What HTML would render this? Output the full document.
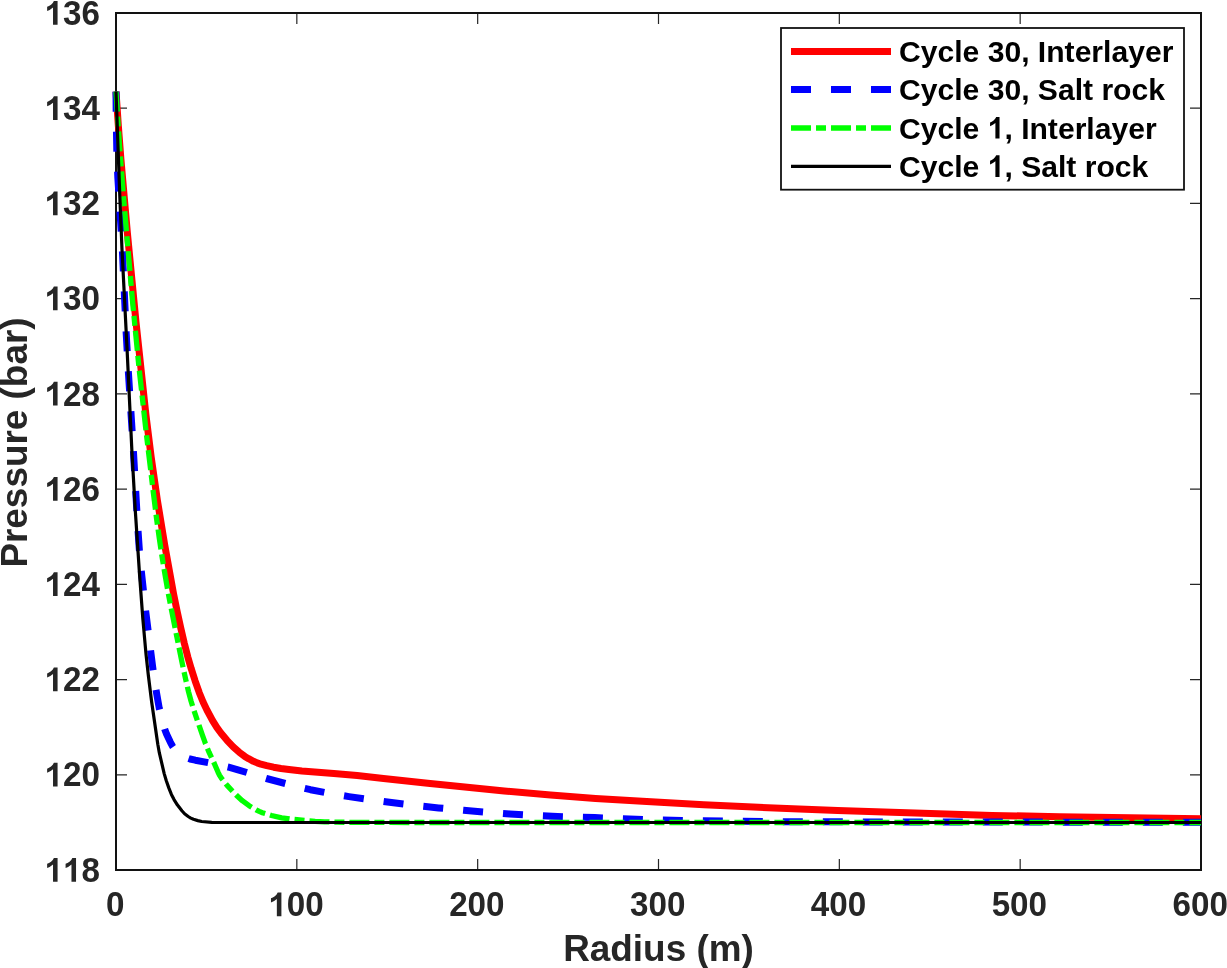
<!DOCTYPE html>
<html><head><meta charset="utf-8"><style>
html,body{margin:0;padding:0;background:#fff;overflow:hidden;}
svg{display:block;will-change:transform;}
text{font-family:"Liberation Sans",sans-serif;font-weight:bold;font-kerning:none;}
</style></head><body>
<svg width="1227" height="968" viewBox="0 0 1227 968">
<rect width="1227" height="968" fill="#fff"/>
<path d="M117 774.78H127M1200 774.78H1190M117 679.56H127M1200 679.56H1190M117 584.33H127M1200 584.33H1190M117 489.11H127M1200 489.11H1190M117 393.89H127M1200 393.89H1190M117 298.67H127M1200 298.67H1190M117 203.44H127M1200 203.44H1190M117 108.22H127M1200 108.22H1190M296.83 869V859M296.83 14V24M477.67 869V859M477.67 14V24M658.50 869V859M658.50 14V24M839.33 869V859M839.33 14V24M1020.17 869V859M1020.17 14V24" stroke="#262626" stroke-width="1.2" fill="none"/>
<rect x="116" y="13" width="1085" height="857" fill="none" stroke="#121212" stroke-width="2"/>
<g fill="none" stroke-linejoin="round">
<path d="M116.0 91.6L118.4 126.5 120.9 158.9 127.4 233.1 136.0 322.2 145.9 414.7 151.2 457.3 157.4 500.4 164.6 544.3 173.7 594.5 177.2 611.7 180.7 627.8 184.2 642.9 187.8 656.9 191.3 668.9 195.1 680.8 199.1 692.2 203.2 702.3 206.9 710.0 212.6 720.6 216.8 727.4 220.9 733.0 227.0 740.3 233.2 746.9 239.2 752.2 244.8 756.4 248.6 758.7 253.5 761.3 257.2 762.9 260.9 764.2 266.7 765.7 273.6 767.2 281.0 768.5 288.9 769.5 301.9 770.9 333.8 773.4 357.2 775.6 383.5 778.4 427.7 783.3 504.3 791.0 550.6 795.1 595.5 798.4 642.4 801.3 703.8 804.8 799.2 809.1 837.7 810.6 961.6 814.6 992.1 815.4 1059.5 816.7 1201.0 818.8" stroke="#f00" stroke-width="7"/>
<path d="M116.0 91.6L116.2 116.6 116.8 150.6 117.8 177.0 122.2 246.9 126.2 333.3 128.2 369.2 133.5 452.5 137.7 525.9 139.3 549.3 141.1 569.2 145.3 608.0 152.6 666.5 155.9 689.3 159.2 708.0 161.0 715.9 162.8 723.1 164.9 729.8 166.5 734.0 170.3 742.1 172.7 746.5 176.5 752.0 177.8 753.5 179.3 754.7 181.3 755.9 183.6 756.9 190.0 759.0 195.3 760.2 211.5 763.3 228.6 767.2 236.3 769.3 266.4 778.5 295.9 786.3 310.5 789.7 331.1 793.6 348.9 796.6 367.2 799.3 389.5 802.3 414.3 805.3 438.6 807.9 463.5 810.3 487.4 812.3 509.8 814.0 534.8 815.5 552.3 816.3 594.7 817.6 654.2 819.8 681.7 820.4 741.1 821.3 789.6 821.7 867.1 821.9 1201.0 822.3" stroke="#00f" stroke-width="7" stroke-dasharray="20 20"/>
<path d="M116.0 91.6L119.6 147.0 123.7 199.3 132.4 299.9 138.9 366.6 146.0 430.7 152.9 488.8 156.5 518.1 159.4 538.9 162.2 557.7 165.3 576.4 168.8 596.1 174.2 623.6 182.2 663.3 185.6 679.0 188.5 691.6 191.1 701.3 193.3 708.5 202.2 734.5 205.4 743.4 209.0 752.2 214.3 763.5 218.1 772.3 219.6 775.4 221.8 778.7 227.1 785.4 236.4 795.3 242.3 800.7 249.1 805.7 256.1 809.9 259.2 811.4 262.4 812.7 271.5 815.5 281.7 817.8 291.1 819.2 315.1 821.3 324.5 821.8 337.5 822.2 364.5 822.4 410.5 822.5 1201.0 822.5" stroke="#0f0" stroke-width="5.3" stroke-dasharray="20 5 10 5"/>
<path d="M116.0 91.6L119.8 196.0 122.0 249.5 127.1 349.8 131.9 451.2 135.2 509.1 139.5 573.9 142.8 618.3 146.0 654.1 148.3 675.0 151.7 702.3 157.8 744.3 159.3 752.7 164.2 773.6 166.3 780.8 168.8 787.9 171.4 794.4 173.9 799.3 177.3 804.8 181.9 810.8 184.6 813.8 188.2 816.5 190.8 818.1 193.5 819.3 197.8 820.6 201.7 821.5 211.7 822.3 224.7 822.5 1201.0 822.5" stroke="#000" stroke-width="3.2"/>
</g>
<g transform="translate(44.51,881.70) scale(1.0,1.045)" fill="#262626" font-size="33.2"><path transform="translate(0.00,0) scale(0.01621,-0.01551)" d="M806 0H525V1059Q371 915 162 846V1101Q272 1137 401 1237Q530 1337 578 1466H806Z"/><path transform="translate(18.46,0) scale(0.01621,-0.01551)" d="M806 0H525V1059Q371 915 162 846V1101Q272 1137 401 1237Q530 1337 578 1466H806Z"/><text x="36.93" y="0" style="white-space:pre">8</text></g><g transform="translate(44.51,786.48) scale(1.0,1.045)" fill="#262626" font-size="33.2"><path transform="translate(0.00,0) scale(0.01621,-0.01551)" d="M806 0H525V1059Q371 915 162 846V1101Q272 1137 401 1237Q530 1337 578 1466H806Z"/><text x="18.46" y="0" style="white-space:pre">20</text></g><g transform="translate(44.51,691.26) scale(1.0,1.045)" fill="#262626" font-size="33.2"><path transform="translate(0.00,0) scale(0.01621,-0.01551)" d="M806 0H525V1059Q371 915 162 846V1101Q272 1137 401 1237Q530 1337 578 1466H806Z"/><text x="18.46" y="0" style="white-space:pre">22</text></g><g transform="translate(44.51,596.03) scale(1.0,1.045)" fill="#262626" font-size="33.2"><path transform="translate(0.00,0) scale(0.01621,-0.01551)" d="M806 0H525V1059Q371 915 162 846V1101Q272 1137 401 1237Q530 1337 578 1466H806Z"/><text x="18.46" y="0" style="white-space:pre">24</text></g><g transform="translate(44.51,500.81) scale(1.0,1.045)" fill="#262626" font-size="33.2"><path transform="translate(0.00,0) scale(0.01621,-0.01551)" d="M806 0H525V1059Q371 915 162 846V1101Q272 1137 401 1237Q530 1337 578 1466H806Z"/><text x="18.46" y="0" style="white-space:pre">26</text></g><g transform="translate(44.51,405.59) scale(1.0,1.045)" fill="#262626" font-size="33.2"><path transform="translate(0.00,0) scale(0.01621,-0.01551)" d="M806 0H525V1059Q371 915 162 846V1101Q272 1137 401 1237Q530 1337 578 1466H806Z"/><text x="18.46" y="0" style="white-space:pre">28</text></g><g transform="translate(44.51,310.37) scale(1.0,1.045)" fill="#262626" font-size="33.2"><path transform="translate(0.00,0) scale(0.01621,-0.01551)" d="M806 0H525V1059Q371 915 162 846V1101Q272 1137 401 1237Q530 1337 578 1466H806Z"/><text x="18.46" y="0" style="white-space:pre">30</text></g><g transform="translate(44.51,215.14) scale(1.0,1.045)" fill="#262626" font-size="33.2"><path transform="translate(0.00,0) scale(0.01621,-0.01551)" d="M806 0H525V1059Q371 915 162 846V1101Q272 1137 401 1237Q530 1337 578 1466H806Z"/><text x="18.46" y="0" style="white-space:pre">32</text></g><g transform="translate(44.51,119.92) scale(1.0,1.045)" fill="#262626" font-size="33.2"><path transform="translate(0.00,0) scale(0.01621,-0.01551)" d="M806 0H525V1059Q371 915 162 846V1101Q272 1137 401 1237Q530 1337 578 1466H806Z"/><text x="18.46" y="0" style="white-space:pre">34</text></g><g transform="translate(44.51,24.70) scale(1.0,1.045)" fill="#262626" font-size="33.2"><path transform="translate(0.00,0) scale(0.01621,-0.01551)" d="M806 0H525V1059Q371 915 162 846V1101Q272 1137 401 1237Q530 1337 578 1466H806Z"/><text x="18.46" y="0" style="white-space:pre">36</text></g>
<g transform="translate(105.97,916.20) scale(1.0,1.045)" fill="#262626" font-size="33.2"><text x="0.00" y="0" style="white-space:pre">0</text></g><g transform="translate(268.34,916.20) scale(1.0,1.045)" fill="#262626" font-size="33.2"><path transform="translate(0.00,0) scale(0.01621,-0.01551)" d="M806 0H525V1059Q371 915 162 846V1101Q272 1137 401 1237Q530 1337 578 1466H806Z"/><text x="18.46" y="0" style="white-space:pre">00</text></g><g transform="translate(449.17,916.20) scale(1.0,1.045)" fill="#262626" font-size="33.2"><text x="0.00" y="0" style="white-space:pre">200</text></g><g transform="translate(630.00,916.20) scale(1.0,1.045)" fill="#262626" font-size="33.2"><text x="0.00" y="0" style="white-space:pre">300</text></g><g transform="translate(810.84,916.20) scale(1.0,1.045)" fill="#262626" font-size="33.2"><text x="0.00" y="0" style="white-space:pre">400</text></g><g transform="translate(991.67,916.20) scale(1.0,1.045)" fill="#262626" font-size="33.2"><text x="0.00" y="0" style="white-space:pre">500</text></g><g transform="translate(1172.50,916.20) scale(1.0,1.045)" fill="#262626" font-size="33.2"><text x="0.00" y="0" style="white-space:pre">600</text></g>
<g transform="translate(563.17,961.00) scale(1.0,1.0)" fill="#262626" font-size="36.9"><text x="0.00" y="0" style="white-space:pre">Radius (m)</text></g>
<g transform="translate(27.2,442.5) rotate(-90)"><g transform="translate(-125.11,0.00) scale(1.0,1.0)" fill="#262626" font-size="36.9"><text x="0.00" y="0" style="white-space:pre">Pressure (bar)</text></g></g>
<rect x="781" y="28" width="403" height="161.7" fill="#fff" stroke="#121212" stroke-width="1.8"/>
<g fill="none">
<path d="M791 51.4H891" stroke="#f00" stroke-width="7"/>
<path d="M791 89.6H891" stroke="#00f" stroke-width="7" stroke-dasharray="20 20"/>
<path d="M791 128.0H891" stroke="#0f0" stroke-width="5.3" stroke-dasharray="20 5 10 5"/>
<path d="M791 166.3H891" stroke="#000" stroke-width="3.2"/>
</g>
<g transform="translate(899.00,62.00) scale(1.0,1.0)" fill="#000" font-size="30.1"><text x="0.00" y="0" style="white-space:pre">Cycle 30, Interlayer</text></g><g transform="translate(899.00,100.20) scale(1.0,1.0)" fill="#000" font-size="30.1"><text x="0.00" y="0" style="white-space:pre">Cycle 30, Salt rock</text></g><g transform="translate(899.00,138.60) scale(1.0,1.0)" fill="#000" font-size="30.1"><text x="0.00" y="0" style="white-space:pre">Cycle </text><path transform="translate(88.68,0) scale(0.01470,-0.01470)" d="M806 0H525V1059Q371 915 162 846V1101Q272 1137 401 1237Q530 1337 578 1466H806Z"/><text x="105.42" y="0" style="white-space:pre">, Interlayer</text></g><g transform="translate(899.00,176.90) scale(1.0,1.0)" fill="#000" font-size="30.1"><text x="0.00" y="0" style="white-space:pre">Cycle </text><path transform="translate(88.68,0) scale(0.01470,-0.01470)" d="M806 0H525V1059Q371 915 162 846V1101Q272 1137 401 1237Q530 1337 578 1466H806Z"/><text x="105.42" y="0" style="white-space:pre">, Salt rock</text></g>
</svg>
</body></html>
